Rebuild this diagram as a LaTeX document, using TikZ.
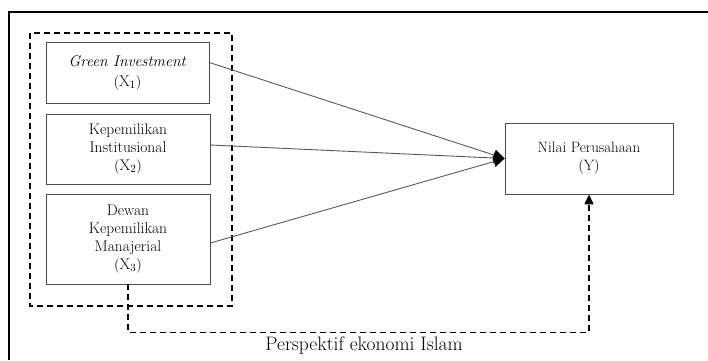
\documentclass[tikz,border=0pt]{standalone}
\usepackage{fontspec}
\usepackage{xcolor}
\usepackage{tikz}
\usetikzlibrary{arrows.meta}
\definecolor{boxline}{rgb}{0.30, 0.30, 0.30}
\definecolor{pathline}{rgb}{0.35, 0.35, 0.35}

\begin{document}
\begin{tikzpicture}[x=1pt,y=-1pt]
	\tikzstyle{varbox} = [draw=boxline,line width=0.8pt,align=center,inner sep=2pt,font=\fontsize{15.5}{18}\selectfont]
	\tikzstyle{patharrow} = [pathline,line width=0.9pt,-{Triangle[length=11pt,width=11pt]},arrows={[color=black]}]
	\tikzstyle{dashline} = [line width=1.3pt,dash pattern=on 6pt off 4pt]

	\useasboundingbox (0,0) rectangle (708,360);

	% Outer frame (only top and left edges show)
	\draw[line width=1.4pt] (9,360) -- (9,12) -- (708,12);

	% Independent variables
	\draw[dashline] (30,33) rectangle (232,306);
	\node[varbox,minimum width=163pt,minimum height=61pt] (x1) at (127.5,72.5)
		{\textit{Green Investment}\\[2pt]$(\mathrm{X}_1)$};
	\node[varbox,minimum width=164pt,minimum height=70pt] (x2) at (128,149)
		{Kepemilikan\\Institusional\\$(\mathrm{X}_2)$};
	\node[varbox,minimum width=164pt,minimum height=90pt] (x3) at (128,239)
		{Dewan\\Kepemilikan\\Manajerial\\$(\mathrm{X}_3)$};

	% Dependent variable
	\node[varbox,minimum width=168pt,minimum height=71pt,font=\fontsize{15}{18}\selectfont] (y) at (589,158.5)
		{Nilai Perusahaan\\$(\mathrm{Y})$};

	% Paths
	\draw[patharrow] ([yshift=10pt]x1.east) -- (y.west);
	\draw[patharrow] ([yshift=4pt]x2.east) -- (y.west);
	\draw[patharrow] ([yshift=-4pt]x3.east) -- (y.west);

	% Moderating perspective
	\draw[dashline,-{Triangle[length=10pt,width=9pt]}] (x3.south) -- ++(0,48) -| (y.south);
	\node[font=\fontsize{19.5}{21}\selectfont] (persp) at (364,346) {Perspektif ekonomi Islam};
\end{tikzpicture}
\end{document}
